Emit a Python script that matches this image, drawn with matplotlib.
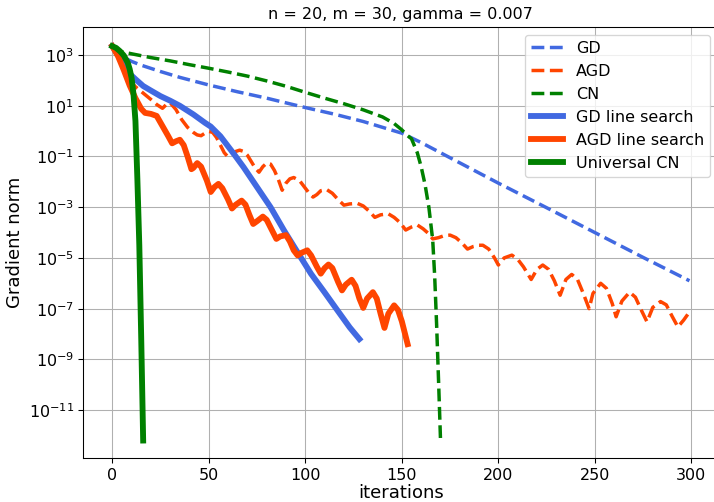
import numpy as np
import matplotlib
matplotlib.use("Agg")
import matplotlib.pyplot as plt

# values, log10 of gradient norm
gd_it = [0, 2, 4, 6, 10, 15, 25, 35, 50, 65, 80, 100, 115, 130, 140, 150,
         160, 175, 200, 225, 250, 275, 299]
gd_log = [3.35, 3.15, 3.0, 2.9, 2.75, 2.6, 2.35, 2.12, 1.82, 1.55, 1.3, 0.93,
          0.67, 0.38, 0.15, -0.08, -0.45, -1.05, -2.05, -3.02, -4.0, -4.98, -5.9]

agd_it = [0, 3, 6, 9, 12, 16, 20, 23, 26, 28, 30, 33, 36, 39, 42, 44, 46, 48,
          50, 52, 54, 56, 58, 60, 62, 64, 66, 68, 70, 72, 74, 76, 78, 80, 82,
          84, 86, 88, 90, 92, 94, 97, 100, 102, 104, 106, 108, 111, 114, 117,
          120, 123, 127, 130, 133, 136, 139, 143, 146, 149, 152, 155, 158, 161,
          164, 166, 169, 172, 175, 178, 181, 184, 187, 190, 192, 195, 198, 200,
          203, 207, 210, 213, 215, 217, 220, 223, 226, 229, 232, 235, 238, 241,
          244, 247, 249, 253, 256, 259, 261, 264, 268, 271, 274, 277, 280, 284,
          287, 290, 293, 296, 299]
agd_log = [3.35, 2.9, 2.4, 2.0, 1.75, 1.5, 1.25, 1.05, 0.9, 1.05, 1.12, 0.85,
           0.45, 0.15, -0.05, -0.15, -0.18, -0.08, -0.01, -0.05, -0.25, -0.55,
           -0.85, -1.02, -0.9, -0.8, -0.75, -0.8, -0.95, -1.2, -1.45, -1.62,
           -1.4, -1.26, -1.3, -1.55, -1.9, -2.33, -2.05, -1.88, -1.83, -1.95,
           -2.25, -2.45, -2.6, -2.5, -2.35, -2.3, -2.45, -2.7, -2.92, -2.87,
           -2.85, -2.95, -3.15, -3.4, -3.3, -3.26, -3.4, -3.6, -3.9, -3.78,
           -3.7, -3.85, -4.05, -4.25, -4.2, -4.12, -4.1, -4.2, -4.4, -4.65,
           -4.55, -4.5, -4.5, -4.65, -5.0, -5.28, -5.0, -4.89, -5.05, -5.35,
           -5.6, -5.85, -5.45, -5.28, -5.45, -5.9, -6.47, -5.85, -5.65, -5.85,
           -6.4, -7.0, -6.4, -6.0, -6.2, -6.8, -7.32, -6.7, -6.35, -6.55, -7.05,
           -7.52, -6.95, -6.72, -6.85, -7.3, -7.72, -7.45, -7.13]

cn_it = [0, 2, 5, 10, 20, 30, 40, 50, 60, 70, 80, 90, 100, 110, 120, 130, 140,
         146, 150, 153, 155, 158, 160, 162, 164, 166, 167, 168, 169, 170]
cn_log = [3.35, 3.2, 3.13, 3.05, 2.9, 2.77, 2.62, 2.48, 2.33, 2.17, 1.98, 1.77,
          1.53, 1.3, 1.08, 0.84, 0.56, 0.3, 0.05, -0.18, -0.3, -0.85, -1.4,
          -2.1, -3.0, -4.3, -5.7, -7.6, -9.8, -12.1]

gdls_it = [0, 3, 6, 9, 12, 16, 20, 25, 30, 35, 42, 48, 51, 56, 63, 68, 75, 82,
           89, 96, 103, 110, 116, 123, 128]
gdls_log = [3.35, 3.0, 2.6, 2.26, 2.05, 1.78, 1.6, 1.38, 1.2, 1.0, 0.66, 0.33,
            0.18, -0.2, -0.9, -1.42, -2.21, -3.0, -3.92, -4.78, -5.63, -6.36,
            -7.0, -7.74, -8.2]

agdls_it = [0, 3, 6, 9, 12, 15, 17, 20, 23, 26, 29, 31, 33, 35, 37, 39, 41, 42,
            44, 46, 49, 51, 53, 55, 57, 60, 62, 64, 67, 69, 71, 73, 75, 78, 80,
            83, 85, 87, 90, 92, 94, 96, 98, 101, 103, 106, 108, 110, 112, 114,
            117, 119, 121, 124, 126, 128, 130, 132, 135, 137, 139, 141, 143,
            146, 148, 150, 152, 153]
agdls_log = [3.35, 2.95, 2.4, 1.8, 1.3, 0.88, 0.72, 0.68, 0.6, 0.2, -0.2, -0.48,
             -0.4, -0.34, -0.55, -1.0, -1.5, -1.45, -1.26, -1.4, -1.95, -2.4,
             -2.2, -2.08, -2.25, -2.7, -3.05, -2.9, -2.74, -2.9, -3.3, -3.66,
             -3.55, -3.37, -3.5, -3.95, -4.25, -4.15, -4.1, -4.35, -4.7, -4.9,
             -4.8, -4.7, -4.9, -5.35, -5.62, -5.4, -5.26, -5.4, -5.95, -6.28,
             -6.05, -5.86, -6.1, -6.6, -6.97, -6.6, -6.35, -6.6, -7.2, -7.76,
             -7.2, -6.87, -7.05, -7.5, -8.1, -8.4]

ucn_it = [0, 2, 4, 6, 8, 9, 10, 11, 12, 13, 14, 15, 16]
ucn_log = [3.35, 3.28, 3.15, 2.98, 2.7, 2.45, 2.1, 1.45, 0.4, -1.9, -4.5, -8.2, -12.2]

plt.rcParams['font.family'] = ['DejaVu Sans']

dpi = 96
fig = plt.figure(figsize=(714 / dpi, 502 / dpi), dpi=dpi)
ax = fig.add_axes([0.1167, 0.0871, 0.8895, 0.8598])

blue = 'royalblue'
red = 'orangered'
green = 'green'
dash_lw = 2.6
solid_lw = 4.4

ax.semilogy(gd_it, np.power(10.0, gd_log), '--', color=blue, lw=dash_lw, label='GD')
ax.semilogy(agd_it, np.power(10.0, agd_log), '--', color=red, lw=dash_lw, label='AGD')
ax.semilogy(cn_it, np.power(10.0, cn_log), '--', color=green, lw=dash_lw, label='CN')
ax.semilogy(gdls_it, np.power(10.0, gdls_log), '-', color=blue, lw=solid_lw, label='GD line search')
ax.semilogy(agdls_it, np.power(10.0, agdls_log), '-', color=red, lw=solid_lw, label='AGD line search')
ax.semilogy(ucn_it, np.power(10.0, ucn_log), '-', color=green, lw=solid_lw, label='Universal CN')

ax.set_xlim(-15, 314)
ax.set_ylim(10 ** -12.9, 10 ** 4.12)
ax.set_yticks([10.0 ** k for k in range(3, -12, -2)])
ax.yaxis.set_minor_locator(matplotlib.ticker.NullLocator())
ax.set_xticks([0, 50, 100, 150, 200, 250, 300])
ax.tick_params(labelsize=12)
ax.grid(True)

ax.set_title('n = 20, m = 30, gamma = 0.007', fontsize=12)
ax.set_xlabel('iterations', fontsize=13.5, labelpad=1)
ax.set_ylabel('Gradient norm', fontsize=13.5)
ax.legend(loc='upper right', fontsize=12)

fig.savefig('out.png', dpi=dpi)
